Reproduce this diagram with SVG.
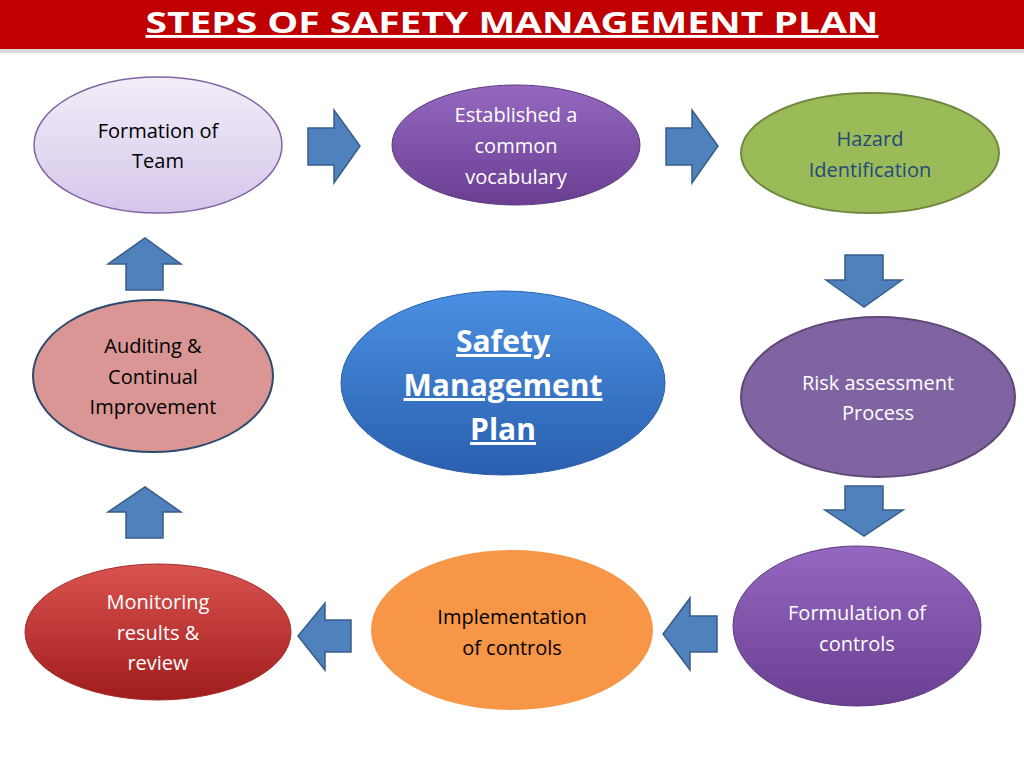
<svg xmlns="http://www.w3.org/2000/svg" width="1024" height="768" viewBox="0 0 1024 768">
<defs>
<style>
.t{font-family:"Open Sans","Liberation Sans",sans-serif;font-size:20px;text-anchor:middle}
.w{fill:#fff}
.ar{fill:#4f81bd;stroke:#385d8a;stroke-width:1.5}
</style>
<linearGradient id="lav" x1="0" y1="0" x2="0" y2="1"><stop offset="0" stop-color="#f2eef8"/><stop offset="1" stop-color="#d5c6ea"/></linearGradient>
<linearGradient id="pur" x1="0" y1="0" x2="0" y2="1"><stop offset="0" stop-color="#9468bf"/><stop offset="1" stop-color="#6a3f92"/></linearGradient>
<linearGradient id="blu" x1="0" y1="0" x2="0" y2="1"><stop offset="0" stop-color="#4a90e2"/><stop offset="1" stop-color="#2a5fae"/></linearGradient>
<linearGradient id="red" x1="0" y1="0" x2="0" y2="1"><stop offset="0" stop-color="#d9534f"/><stop offset="1" stop-color="#a01c1c"/></linearGradient>
</defs>
<rect width="1024" height="768" fill="#fff"/>
<rect x="0" y="0" width="1024" height="49" fill="#c00000"/>
<rect x="0" y="49" width="1024" height="4" fill="#d9d9d9"/>
<text x="512" y="33" style="font-family:'Open Sans','Liberation Sans',sans-serif;font-size:29px;font-weight:bold;fill:#fff;text-decoration:underline" text-anchor="middle" textLength="733" lengthAdjust="spacingAndGlyphs">STEPS OF SAFETY MANAGEMENT PLAN</text>
<g id="connectors">
<path class="ar" d="M308,128 H334 V110 L360,146 L334,183 V165 H308 Z"/>
<path class="ar" d="M666,128 H692 V110 L718,146 L692,183 V165 H666 Z"/>
<path class="ar" d="M845,255 H883 V280 H902 L864,307 L826,280 H845 Z"/>
<path class="ar" d="M845,486 H883 V510 H903 L864,536 L825,510 H845 Z"/>
<path class="ar" d="M717,616 H690 V598 L663,634 L690,670 V652 H717 Z"/>
<path class="ar" d="M351,620 H325 V603 L298,636 L325,670 V652 H351 Z"/>
<path class="ar" d="M126,538 V512 H108 L145,487 L181,512 H163 V538 Z"/>
<path class="ar" d="M126,290 V264 H108 L145,238 L181,264 H163 V290 Z"/>
</g>
<g id="n1"><ellipse cx="158" cy="145" rx="124" ry="68" fill="url(#lav)" stroke="#8064a2" stroke-width="1.5"/>
<text class="t" x="158" y="138">Formation of</text><text class="t" x="158" y="168">Team</text></g>
<g id="n2"><ellipse cx="516" cy="145" rx="124" ry="60" fill="url(#pur)" stroke="#5c3a80" stroke-width="1"/>
<text class="t w" x="516" y="122">Established a</text><text class="t w" x="516" y="153">common</text><text class="t w" x="516" y="184">vocabulary</text></g>
<g id="n3"><ellipse cx="870" cy="153" rx="129" ry="60" fill="#9bbb59" stroke="#71893f" stroke-width="2"/>
<text class="t" x="870" y="146" fill="#1f497d">Hazard</text><text class="t" x="870" y="177" fill="#1f497d">Identification</text></g>
<g id="n4"><ellipse cx="878" cy="397" rx="137" ry="80" fill="#8064a2" stroke="#5c4776" stroke-width="2"/>
<text class="t w" x="878" y="390">Risk assessment</text><text class="t w" x="878" y="420">Process</text></g>
<g id="n5"><ellipse cx="857" cy="626" rx="124" ry="80" fill="url(#pur)" stroke="#5c3a80" stroke-width="1"/>
<text class="t w" x="857" y="620">Formulation of</text><text class="t w" x="857" y="651">controls</text></g>
<g id="n6"><ellipse cx="512" cy="630" rx="143" ry="82" fill="#f79646" stroke="#fff" stroke-width="4"/>
<text class="t" x="512" y="624">Implementation</text><text class="t" x="512" y="655">of controls</text></g>
<g id="n7"><ellipse cx="158" cy="632" rx="133" ry="68" fill="url(#red)" stroke="#a23030" stroke-width="1"/>
<text class="t w" x="158" y="609">Monitoring</text><text class="t w" x="158" y="640">results &amp;</text><text class="t w" x="158" y="670">review</text></g>
<g id="n8"><ellipse cx="153" cy="376" rx="120" ry="76" fill="#d99694" stroke="#2c4a6e" stroke-width="2"/>
<text class="t" x="153" y="353">Auditing &amp;</text><text class="t" x="153" y="384">Continual</text><text class="t" x="153" y="414">Improvement</text></g>
<g id="n9"><ellipse cx="503" cy="383" rx="162" ry="92" fill="url(#blu)" stroke="#2a5fae" stroke-width="1"/>
<g style="font-family:'Open Sans','Liberation Sans',sans-serif;font-size:30px;font-weight:bold;fill:#fff;text-decoration:underline" text-anchor="middle">
<text x="503" y="352">Safety</text><text x="503" y="396">Management</text><text x="503" y="440">Plan</text></g></g>
</svg>
